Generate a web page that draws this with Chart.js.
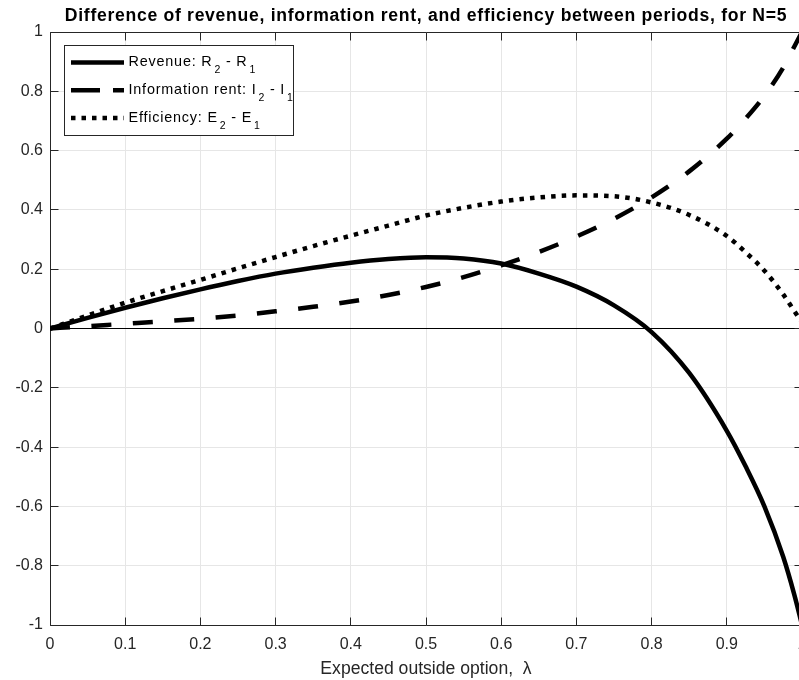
<!DOCTYPE html>
<html>
<head>
<meta charset="utf-8">
<title>Difference between periods, N=5</title>
<script src="https://cdn.jsdelivr.net/npm/chart.js@4.4.1/dist/chart.umd.min.js"></script>
<style>
  html, body { margin:0; padding:0; background:#fff; overflow:hidden; }
  #wrap { width:830px; height:680px; }
</style>
</head>
<body>
<div id="wrap"><canvas id="chart" width="830" height="680"></canvas></div>
<script>
/* ---------- data ---------- */
const lambdaValues = [0, 0.05, 0.1, 0.15, 0.2, 0.25, 0.3, 0.35, 0.4, 0.45, 0.5, 0.55, 0.6, 0.65, 0.7, 0.75, 0.8, 0.85, 0.9, 0.925, 0.95, 0.975, 0.99, 1];
const revenueDiff = [0, 0.036, 0.07, 0.102, 0.132, 0.16, 0.185, 0.205, 0.222, 0.234, 0.240, 0.236, 0.219, 0.185, 0.141, 0.078, -0.012, -0.15, -0.345, -0.465, -0.60, -0.77, -0.90, -1.0];
const rentDiff = [0, 0.008, 0.016, 0.024, 0.033, 0.044, 0.058, 0.073, 0.091, 0.113, 0.14, 0.173, 0.213, 0.258, 0.31, 0.37, 0.442, 0.53, 0.64, 0.708, 0.785, 0.88, 0.952, 1.0];
const efficiencyDiff = [0, 0.044, 0.087, 0.126, 0.164, 0.203, 0.241, 0.278, 0.313, 0.347, 0.381, 0.407, 0.428, 0.442, 0.449, 0.446, 0.425, 0.383, 0.312, 0.257, 0.195, 0.115, 0.058, 0.02];

const xTickStep = 0.1;
const yTickStep = 0.2;

const titleText = "Difference of revenue, information rent, and efficiency between periods, for N=5";
const xLabel = "Expected outside option,  \u03bb";

// legend entries: main text + subscripts
const legendRows = [
  { dash: [], parts: [["Revenue: R"], ["2", 1], [" - R"], ["1", 1]] },
  { dash: [29, 13], parts: [["Information rent: I"], ["2", 1], [" - I"], ["1", 1]] },
  { dash: [4.5, 6], parts: [["Efficiency: E"], ["2", 1], [" - E"], ["1", 1]] }
];

/* ---------- style ---------- */
const FONT = "'Liberation Sans', Arial, Helvetica, sans-serif";
const AXIS_COLOR = "#262626";
const GRID_COLOR = "#e6e6e6";
const TICK_LEN = 8;

function toPoints(ys){ return lambdaValues.map((x, i) => ({ x, y: ys[i] })); }
function crisp(px){ return Math.round(px - 0.5) + 0.5; }
function fmtTick(v){ return String(+(+v).toFixed(2)); }

/* axes box + inward ticks (MATLAB look) */
const framePlugin = {
  id: "frame",
  beforeDatasetsDraw(chart){
    const { ctx, chartArea: a, scales: { x, y } } = chart;
    const L = crisp(a.left), R = crisp(a.right), T = crisp(a.top), B = crisp(a.bottom);
    ctx.save();
    ctx.strokeStyle = AXIS_COLOR;
    ctx.lineWidth = 1;
    ctx.beginPath();
    x.ticks.forEach(t => {
      const px = crisp(x.getPixelForValue(t.value));
      ctx.moveTo(px, B); ctx.lineTo(px, B - TICK_LEN);
      ctx.moveTo(px, T); ctx.lineTo(px, T + TICK_LEN);
    });
    y.ticks.forEach(t => {
      const py = crisp(y.getPixelForValue(t.value));
      ctx.moveTo(L, py); ctx.lineTo(L + TICK_LEN, py);
      ctx.moveTo(R, py); ctx.lineTo(R - TICK_LEN, py);
    });
    ctx.rect(L, T, R - L, B - T);
    ctx.stroke();
    ctx.restore();
  },
  afterDraw(chart){
    const { ctx, chartArea: a } = chart;
    ctx.save();
    ctx.font = "bold 17.6px " + FONT;
    ctx.letterSpacing = "0.7px";
    ctx.fillStyle = "#000";
    ctx.textAlign = "center";
    ctx.textBaseline = "middle";
    ctx.fillText(titleText, (a.left + a.right) / 2, 16);
    ctx.restore();
  }
};

/* legend box with subscripts */
const legendPlugin = {
  id: "texLegend",
  afterDatasetsDraw(chart){
    const { ctx } = chart;
    const box = { x: 64.5, y: 45.5, w: 229, h: 90 };
    ctx.save();
    ctx.fillStyle = "#fff";
    ctx.strokeStyle = AXIS_COLOR;
    ctx.lineWidth = 1;
    ctx.fillRect(box.x, box.y, box.w, box.h);
    ctx.strokeRect(box.x, box.y, box.w, box.h);

    legendRows.forEach((row, i) => {
      const cy = 62.5 + i * 27.8;
      ctx.save();
      ctx.strokeStyle = "#000";
      ctx.lineWidth = 4.5;
      ctx.lineCap = "butt";
      ctx.setLineDash(row.dash);
      ctx.beginPath();
      ctx.moveTo(71, cy); ctx.lineTo(124, cy);
      ctx.stroke();
      ctx.restore();

      let tx = 128.5;
      ctx.fillStyle = "#000";
      ctx.textAlign = "left";
      ctx.textBaseline = "middle";
      ctx.letterSpacing = "0.8px";
      row.parts.forEach(([txt, sub]) => {
        if (sub) {
          ctx.font = "10.5px " + FONT;
          tx += 2;
          ctx.fillText(txt, tx, cy + 8);
        } else {
          ctx.font = "14.4px " + FONT;
          ctx.fillText(txt, tx, cy);
        }
        tx += ctx.measureText(txt).width;
      });
    });
    ctx.restore();
  }
};

/* ---------- chart ---------- */
const lineBase = { borderColor: "#000", borderWidth: 4.5, pointRadius: 0, fill: false, cubicInterpolationMode: "monotone", borderCapStyle: "butt" };

new Chart(document.getElementById("chart").getContext("2d"), {
  type: "line",
  data: {
    datasets: [
      { ...lineBase, label: "Revenue", data: toPoints(revenueDiff) },
      { ...lineBase, label: "Information rent", data: toPoints(rentDiff), borderDash: [20, 21.5] },
      { ...lineBase, label: "Efficiency", data: toPoints(efficiencyDiff), borderDash: [4.5, 6.1] }
    ]
  },
  options: {
    responsive: false,
    animation: false,
    devicePixelRatio: 1,
    layout: { padding: { top: 32, right: 28, left: 0, bottom: 0 } },
    plugins: { legend: { display: false }, title: { display: false }, tooltip: { enabled: false } },
    scales: {
      x: {
        type: "linear", min: 0, max: 1,
        border: { display: false },
        grid: { color: GRID_COLOR, drawTicks: false },
        ticks: { stepSize: xTickStep, autoSkip: false, maxRotation: 0, padding: 10.4, color: AXIS_COLOR, font: { family: FONT, size: 16 }, callback: fmtTick },
        title: { display: true, text: xLabel, color: AXIS_COLOR, font: { family: FONT, size: 17.6 }, padding: { top: 0, bottom: 0.4 } },
        afterFit(scale){ scale.height = 55; }
      },
      y: {
        type: "linear", min: -1, max: 1,
        border: { display: false },
        grid: {
          drawTicks: false,
          color: c => Math.abs(c.tick.value) < 1e-9 ? "#000" : GRID_COLOR
        },
        ticks: { stepSize: yTickStep, autoSkip: false, padding: 7, color: AXIS_COLOR, font: { family: FONT, size: 16 }, callback: fmtTick },
        afterFit(scale){ scale.width = 50; }
      }
    }
  },
  plugins: [framePlugin, legendPlugin]
});
</script>
</body>
</html>
